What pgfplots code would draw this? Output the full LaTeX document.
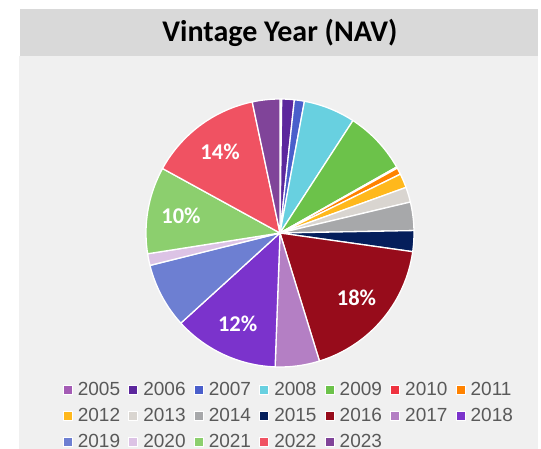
\documentclass[border=0pt]{standalone}
\usepackage{fontspec}
\setmainfont{Carlito}
\newfontfamily\legfont{Liberation Sans}
\usepackage{pgfplots}
\pgfplotsset{compat=1.18}
\usepackage{pgfplotstable}

\definecolor{c2005}{HTML}{A45CB5}
\definecolor{c2006}{HTML}{5C279D}
\definecolor{c2007}{HTML}{4A5FCB}
\definecolor{c2008}{HTML}{68D0E0}
\definecolor{c2009}{HTML}{6CC24A}
\definecolor{c2010}{HTML}{EF3340}
\definecolor{c2011}{HTML}{FF8200}
\definecolor{c2012}{HTML}{FFB81C}
\definecolor{c2013}{HTML}{D9D5D0}
\definecolor{c2014}{HTML}{A7A8AA}
\definecolor{c2015}{HTML}{041E5B}
\definecolor{c2016}{HTML}{970C1B}
\definecolor{c2017}{HTML}{B47FC4}
\definecolor{c2018}{HTML}{7B33CC}
\definecolor{c2019}{HTML}{6D7FD2}
\definecolor{c2020}{HTML}{DCC3E5}
\definecolor{c2021}{HTML}{8CCF6E}
\definecolor{c2022}{HTML}{F05262}
\definecolor{c2023}{HTML}{804499}
\definecolor{bandgray}{HTML}{D9D9D9}
\definecolor{panelgray}{HTML}{F0F0F0}
\definecolor{legtext}{HTML}{595959}

\pgfplotstableread{
year value label
2005 0.2 0
2006 1.5 0
2007 1.2 0
2008 6.2 0
2009 7.6 0
2010 0.15 0
2011 0.8 0
2012 1.7 0
2013 1.8 0
2014 3.4 0
2015 2.5 0
2016 17.9 18
2017 5.3 0
2018 12.6 12
2019 7.8 0
2020 1.4 0
2021 10.4 10
2022 13.6 14
2023 3.3 0
}\vintage

\begin{document}
\begin{tikzpicture}[x=1pt,y=1pt]
\useasboundingbox (0,0) rectangle (541,449);
\fill[white] (0,0) rectangle (541,449);
\fill[bandgray] (20,393) rectangle (538,440);
\fill[panelgray] (19,0) rectangle (538,393);
\node[font=\fontsize{30}{32}\selectfont\bfseries, text=black] at (280,416) {Vintage Year (NAV)};

\begin{axis}[
  at={(146pt,82pt)}, anchor=south west,
  scale only axis, width=268pt, height=268pt,
  xmin=-1, xmax=1, ymin=-1, ymax=1,
  hide axis, clip=false,
  legend columns=7,
  legend cell align=left,
  legend image code/.code={\draw[#1, draw=white, line width=1pt] (0pt,-4.5pt) rectangle (9pt,4.5pt);},
  legend style={draw=none, fill=none, inner sep=0pt, text=legtext,
    font=\legfont\fontsize{19}{22}\selectfont,
    nodes={inner sep=0pt},
    /tikz/row sep=11.4pt,
    at={(-0.311,-0.0558)}, anchor=north west,
    /tikz/every odd column/.append style={column sep=5pt},
    /tikz/every even column/.append style={column sep=8.2pt}},
]
\pgfplotstablegetrowsof{\vintage}
\pgfmathtruncatemacro\N{\pgfplotsretval-1}
\gdef\total{0}
\pgfplotsforeachungrouped \i in {0,...,\N}{%
  \pgfplotstablegetelem{\i}{value}\of\vintage
  \pgfmathsetmacro\total{\total+\pgfplotsretval}%
}
\gdef\cum{0}
\pgfplotsforeachungrouped \i in {0,...,\N}{%
  \pgfplotstablegetelem{\i}{year}\of\vintage \edef\yr{\pgfplotsretval}%
  \pgfplotstablegetelem{\i}{value}\of\vintage \edef\v{\pgfplotsretval}%
  \pgfplotstablegetelem{\i}{label}\of\vintage \edef\lab{\pgfplotsretval}%
  \pgfmathsetmacro\a{\cum/\total*360}%
  \pgfmathsetmacro\b{(\cum+\v)/\total*360}%
  \pgfmathsetmacro\m{(\a+\b)/2}%
  \pgfmathsetmacro\lx{0.75*sin(\m)}%
  \pgfmathsetmacro\ly{0.75*cos(\m)}%
  \edef\temp{\noexpand\addplot[fill=c\yr, draw=white, line width=1.3pt, domain=\a:\b, samples=60, line join=round] ({sin(x)},{cos(x)}) -- (axis cs:0,0) -- cycle;}%
  \temp
  \edef\temp{\noexpand\addlegendentry{\yr}}%
  \temp
  \ifnum\lab>0
    \edef\temp{\noexpand\node[text=white, font=\noexpand\fontsize{22.5}{24}\noexpand\selectfont\noexpand\bfseries] at (axis cs:\lx,\ly) {\lab\noexpand\%};}%
    \temp
  \fi
  \pgfmathsetmacro\cum{\cum+\v}%
}
\end{axis}
\end{tikzpicture}
\end{document}
